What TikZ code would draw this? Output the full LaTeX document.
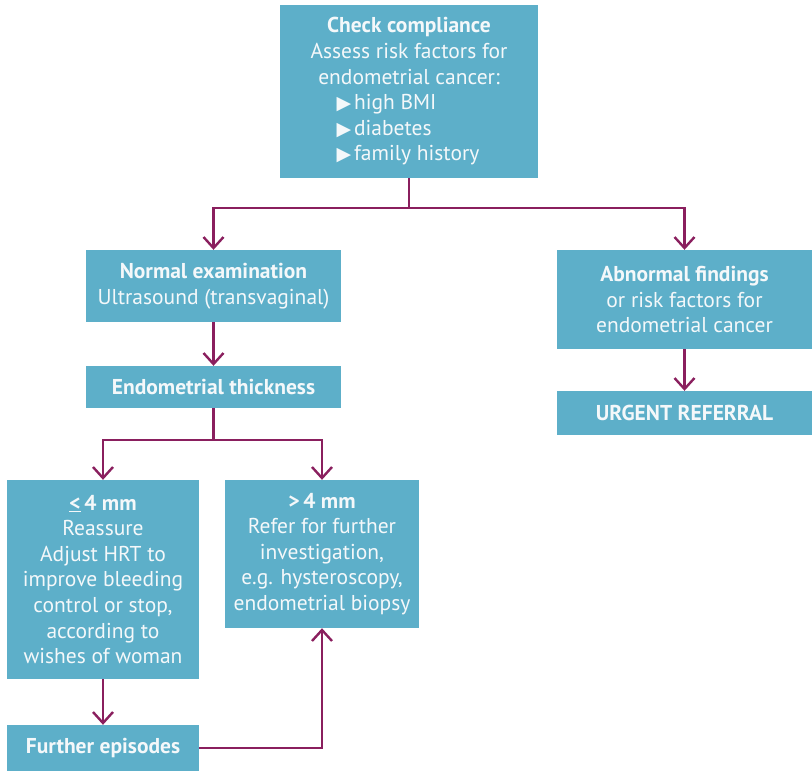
\documentclass[tikz,border=0pt]{standalone}
\usepackage{fontspec}
\setmainfont{PT Sans}
\newfontfamily\symfont{DejaVu Sans}
\usetikzlibrary{arrows.meta}
\definecolor{boxfill}{HTML}{5DAFC9}
\definecolor{linecol}{HTML}{8A1F5E}
\definecolor{txtcol}{HTML}{F4F8FA}
\newcommand{\tri}{{\symfont\fontsize{19}{19}\selectfont ▶}\hspace{3pt}}
\newcommand{\bitem}[1]{\makebox[145pt][l]{\tri #1}}
\tikzset{
  fbox/.style={fill=boxfill, draw=none, text=txtcol, align=center,
    font=\fontsize{21.5}{25.6}\selectfont, inner sep=0pt},
  conn/.style={draw=linecol, line width=2.4pt},
  arr/.style={conn, -{Straight Barb[length=11pt,width=20pt,line width=2.4pt]}}
}
\begin{document}
\begin{tikzpicture}[x=1pt,y=-1pt]
\useasboundingbox (0,0) rectangle (812,771);
\node[fbox, minimum width=258pt, minimum height=173pt] (top) at (409,91.5)
  {\textbf{Check compliance}\\Assess risk factors for\\endometrial cancer:\\
   \bitem{high BMI}\\\bitem{diabetes}\\\bitem{family history}};
\node[fbox, minimum width=255pt, minimum height=72pt] (normal) at (213.5,286)
  {\textbf{Normal examination}\\Ultrasound (transvaginal)};
\node[fbox, minimum width=255pt, minimum height=99pt] (abn) at (684.5,299.5)
  {\textbf{Abnormal findings}\\or risk factors for\\endometrial cancer};
\node[fbox, minimum width=255pt, minimum height=42pt] (endo) at (213.5,387)
  {\textbf{Endometrial thickness}};
\node[fbox, minimum width=255pt, minimum height=44pt] (urgent) at (684.5,413)
  {\textbf{URGENT REFERRAL}};
\node[fbox, minimum width=192pt, minimum height=199pt] (le) at (103,579.5)
  {\textbf{\underline{<}\,4 mm}\\Reassure\\Adjust HRT to\\improve bleeding\\control or stop,\\according to\\wishes of woman};
\node[fbox, minimum width=194pt, minimum height=148pt] (gt) at (322,554)
  {\textbf{>\,4 mm}\\Refer for further\\investigation,\\e.g. hysteroscopy,\\endometrial biopsy};
\node[fbox, minimum width=192pt, minimum height=46pt] (further) at (103,748)
  {\textbf{Further episodes}};
\coordinate (j1) at (409,208);
\coordinate (j2) at (213.5,440);
\draw[conn] (top.south) -- (j1);
\draw[arr] (j1) -| (normal.north);
\draw[arr] (j1) -| (abn.north);
\draw[arr] (normal.south) -- (endo.north);
\draw[arr] (abn.south) -- (urgent.north);
\draw[conn] (endo.south) -- (j2);
\draw[arr] (j2) -| (le.north);
\draw[arr] (j2) -| (gt.north);
\draw[arr] (le.south) -- (further.north);
\draw[arr] (further.east) -| (gt.south);
\end{tikzpicture}
\end{document}
